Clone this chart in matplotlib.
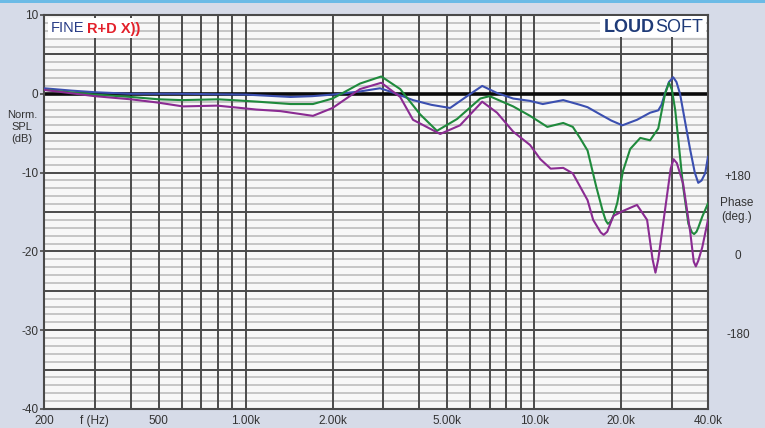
import matplotlib
matplotlib.use("Agg")
import matplotlib.pyplot as plt
from matplotlib.patches import Rectangle
import numpy as np

plt.rcParams['font.family'] = ['Liberation Sans', 'DejaVu Sans']

# ---------------- data (Hz, dB) ----------------
blue_f = [200, 250, 300, 400, 600, 1000, 1430, 1700, 2000, 2490, 2920, 3160, 3800, 4400, 5110,
          5850, 6600, 7430, 8450, 9670, 10700, 12600, 14400, 15300, 16900, 18500, 20200, 22700,
          25200, 26900, 27600, 28400, 29300, 30300, 31100, 32000, 33300, 34700, 36000, 37000,
          38000, 39100, 40000]
blue_db = [0.7, 0.4, 0.2, 0.0, 0.0, -0.1, -0.4, -0.3, -0.1, 0.3, 0.7, 0.3, -0.8, -1.4, -1.8,
           -0.3, 1.0, 0.1, -0.6, -0.9, -1.3, -0.8, -1.4, -1.7, -2.6, -3.4, -4.0, -3.3,
           -2.4, -2.1, -1.4, 0.1, 1.5, 2.1, 1.5, 0.0, -3.5, -7.1, -10.0, -11.3,
           -11.0, -10.1, -8.0]

green_f = [200, 300, 400, 500, 600, 800, 900, 1100, 1430, 1710, 2000, 2490, 2950, 3430, 4020,
           4600, 5400, 6500, 7000, 8450, 9670, 11100, 12600, 13600, 14400, 15300, 16400, 17300,
           17700, 18000, 18400, 18800, 19400, 20300, 21500, 23300, 25200, 26900, 28400, 29300,
           30000, 30800, 31800, 32800, 34200, 35200, 35800, 36500, 37000, 38200, 40000]
green_db = [0.5, -0.1, -0.4, -0.7, -0.8, -0.7, -0.8, -1.0, -1.3, -1.3, -0.6, 1.3, 2.2, 0.6, -2.6,
            -4.7, -3.2, -0.6, -0.3, -1.6, -2.8, -4.2, -3.7, -4.2, -5.6, -7.2, -11.8, -15.0,
            -16.1, -16.5, -16.2, -15.5, -13.8, -9.8, -7.0, -5.6, -5.9, -4.4, 0.0, 1.4,
            0.5, -2.1, -7.0, -11.8, -16.5, -17.6, -17.8, -17.5, -17.0, -15.6, -13.9]

purple_f = [200, 300, 400, 493, 606, 796, 904, 1090, 1320, 1710, 2000, 2490, 2950, 3430, 3800,
            4720, 5530, 6600, 7430, 8450, 9670, 10500, 11400, 12600, 13600, 15300, 16000, 17000,
            17400, 17900, 18800, 20200, 22700, 24600, 25700, 26300, 26900, 28200, 29700, 30400,
            31200, 32800, 34700, 35700, 36300, 37000, 38200, 40000]
purple_db = [0.5, -0.3, -0.7, -1.1, -1.6, -1.5, -1.7, -2.0, -2.2, -2.8, -1.8, 0.6, 1.4, -0.4, -3.3,
             -5.1, -4.0, -1.0, -2.4, -4.8, -6.5, -8.3, -9.5, -9.4, -10.1, -13.5, -16.0, -17.6,
             -17.9, -17.5, -15.5, -14.9, -14.1, -16.0, -21.0, -22.7, -21.0, -15.5, -9.5, -8.3,
             -8.8, -11.4, -17.5, -21.3, -21.9, -21.2, -19.5, -16.0]

x_ticks = [200, 500, 1000, 2000, 5000, 10000, 20000, 40000]
x_labels = ["200", "500", "1.00k", "2.00k", "5.00k", "10.0k", "20.0k", "40.0k"]
y_ticks = [10, 0, -10, -20, -30, -40]
phase_labels = ["+180", "0", "-180"]
phase_pos = [-10.6, -20.6, -30.6]

# ---------------- figure ----------------
W, H = 765, 428
fig = plt.figure(figsize=(W / 100, H / 100), dpi=100)
fig.patch.set_facecolor('#d6dbe8')
fig.add_artist(Rectangle((0, 1 - 3 / H), 1, 3 / H, transform=fig.transFigure,
                         facecolor='#6cbbe6', edgecolor='none'))

L, R, T, B = 44, 708, 15, 409
ax = fig.add_axes([L / W, 1 - B / H, (R - L) / W, (B - T) / H])
ax.set_facecolor('#f7f7f7')
ax.set_xscale('log')
ax.set_xlim(200, 40000)
ax.set_ylim(-40, 10)

# grid
for v in range(-40, 11):
    if v == 0:
        continue
    if v % 5 == 0:
        ax.axhline(v, color='#4a4a4a', lw=1.4, zorder=1)
    else:
        ax.axhline(v, color='#b8b8b8', lw=1.1, zorder=0.5)
vlines = [300, 400, 500, 600, 700, 800, 900, 1000, 2000, 3000, 4000, 5000, 6000,
          7000, 8000, 9000, 10000, 20000, 30000]
for f in vlines:
    ax.axvline(f, color='#4a4a4a', lw=1.4, zorder=1)
ax.axhline(0, color='#0a0a0a', lw=2.6, zorder=1.5)

for s in ax.spines.values():
    s.set_color('#4a4a4a')
    s.set_linewidth(1.5)

# curves
ax.plot(blue_f, blue_db, color='#3b4fb0', lw=1.5, zorder=3, solid_joinstyle='round')
ax.plot(green_f, green_db, color='#1f8a3c', lw=1.5, zorder=3, solid_joinstyle='round')
ax.plot(purple_f, purple_db, color='#8a2b92', lw=1.5, zorder=3, solid_joinstyle='round')

# ticks
ax.set_xticks([])
ax.set_xticks([], minor=True)
ax.set_yticks(y_ticks)
ax.set_yticklabels([str(t) for t in y_ticks], fontsize=8.5, color='#333333')
ax.tick_params(axis='y', length=3, width=1.2, color='#4a4a4a', pad=1)
ax.set_yticks([], minor=True)

for f, lab in zip(x_ticks, x_labels):
    ax.text(f, -40.75, lab, ha='center', va='top', fontsize=8.5, color='#333333',
            clip_on=False)
ax.text(300, -40.75, "f (Hz)", ha='center', va='top', fontsize=8.5, color='#333333',
        clip_on=False)

# left axis label
fig.text(22 / W, 1 - 127 / H, "Norm.\nSPL\n(dB)", ha='center', va='center', fontsize=8,
         color='#333333', linespacing=1.3)

# right phase labels
for lab, p in zip(phase_labels, phase_pos):
    ax.text(1.0455, (p + 40) / 50, lab, transform=ax.transAxes, ha='center', va='center',
            fontsize=8.5, color='#333333', clip_on=False)
fig.text(737 / W, 1 - 210 / H, "Phase\n(deg.)", ha='center', va='center', fontsize=8.5,
         color='#333333', linespacing=1.3)

# branding boxes
fig.add_artist(Rectangle((48 / W, 1 - 38 / H), 86 / W, 20 / H, transform=fig.transFigure,
                         facecolor='white', edgecolor='none', zorder=5))
fig.text(51 / W, 1 - 28.5 / H, "FINE", ha='left', va='center', fontsize=10.5,
         color='#283c86', zorder=6)
fig.text(87 / W, 1 - 28.5 / H, "R+D X))", ha='left', va='center', fontsize=10.5,
         color='#e3202a', fontweight='bold', zorder=6)

fig.add_artist(Rectangle((600 / W, 1 - 37 / H), 106 / W, 21 / H, transform=fig.transFigure,
                         facecolor='white', edgecolor='none', zorder=5))
t_loud = fig.text(604 / W, 1 - 28 / H, "LOUD", ha='left', va='center', fontsize=13,
                  color='#1f3b78', fontweight='bold', zorder=6)
fig.canvas.draw()
bb = t_loud.get_window_extent()
fig.text(bb.x1 / W + 0.5 / W, 1 - 28 / H, "SOFT", ha='left', va='center', fontsize=13,
         color='#1f3b78', zorder=6)

fig.savefig("out.png", dpi=100, facecolor=fig.get_facecolor())
